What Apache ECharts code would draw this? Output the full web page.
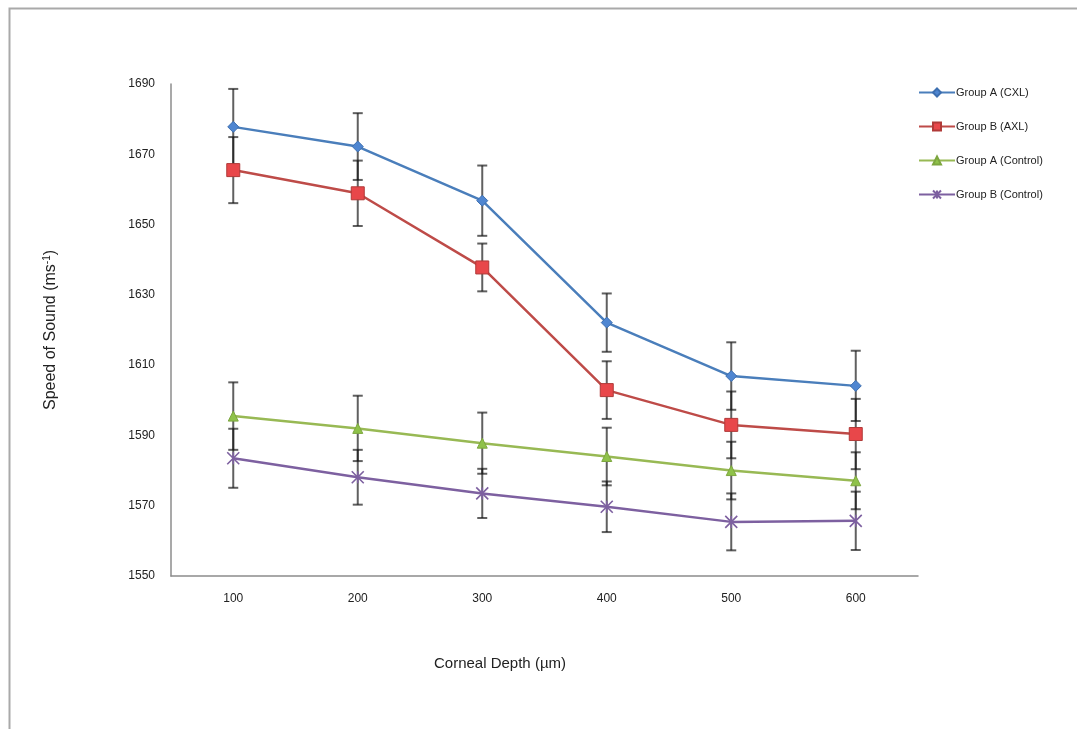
<!DOCTYPE html>
<html>
<head>
<meta charset="utf-8">
<script src="https://cdn.jsdelivr.net/npm/echarts@6/dist/echarts.min.js"></script>
<style>html,body{margin:0;padding:0;background:#fff;}#c{width:1077px;height:729px;}</style>
</head>
<body>
<div id="c"></div>
<script>
const depths = ['100', '200', '300', '400', '500', '600'];
const seriesNames = ['Group A (CXL)', 'Group B (AXL)', 'Group A (Control)', 'Group B (Control)'];
const cxl = [1677.8, 1672.2, 1656.8, 1622.1, 1606.9, 1604.1];
const cxlErr = [10.8, 9.5, 10, 8.3, 9.6, 10];
const axl = [1665.5, 1658.9, 1637.8, 1602.9, 1593.0, 1590.4];
const axlErr = [9.4, 9.3, 6.8, 8.2, 9.5, 10];
const ctrlA = [1595.5, 1592.0, 1587.8, 1584.0, 1580.0, 1577.1];
const ctrlAErr = [9.6, 9.3, 8.7, 8.2, 8.2, 8.1];
const ctrlB = [1583.5, 1578.1, 1573.5, 1569.7, 1565.4, 1565.7];
const ctrlBErr = [8.4, 7.8, 7.0, 7.2, 8.1, 8.3];
const yTicks = [1550, 1570, 1590, 1610, 1630, 1650, 1670, 1690];

const FONT = 'Liberation Sans, Arial, sans-serif';
const chart = echarts.init(document.getElementById('c'), null, {renderer: 'canvas'});

function errSeries(vals, errs) {
  return {
    type: 'custom',
    z: 1,
    silent: true,
    data: vals.map((v, i) => [i, v, errs[i]]),
    renderItem: function (params, api) {
      const i = api.value(0), v = api.value(1), e = api.value(2);
      const top = api.coord([i, v + e]);
      const bot = api.coord([i, v - e]);
      const w = 5;
      const st = {stroke: 'rgba(20,20,20,0.68)', lineWidth: 2};
      return {
        type: 'group',
        children: [
          {type: 'line', shape: {x1: top[0], y1: top[1], x2: bot[0], y2: bot[1]}, style: st},
          {type: 'line', shape: {x1: top[0] - w, y1: top[1], x2: top[0] + w, y2: top[1]}, style: st},
          {type: 'line', shape: {x1: bot[0] - w, y1: bot[1], x2: bot[0] + w, y2: bot[1]}, style: st}
        ]
      };
    }
  };
}

function lineSeries(name, vals, color, symbol, size, itemStyle) {
  return {
    name: name,
    type: 'line',
    z: 3,
    data: vals,
    symbol: symbol,
    symbolSize: size,
    lineStyle: {color: color, width: 2.5},
    itemStyle: itemStyle,
    emphasis: {disabled: true}
  };
}

const option = {
  backgroundColor: '#ffffff',
  animation: false,
  graphic: [{
    type: 'rect',
    shape: {x: 9.5, y: 8.5, width: 1100, height: 800},
    style: {fill: 'none', stroke: '#a9a9a9', lineWidth: 2},
    silent: true
  }],
  grid: {left: 171, top: 84, right: 159, bottom: 153},
  legend: {
    orient: 'vertical',
    left: 913,
    top: 82,
    itemWidth: 36,
    itemHeight: 10,
    itemGap: 23,
    data: seriesNames,
    textStyle: {fontFamily: FONT, fontSize: 11, color: '#222', padding: [0, 0, 0, -4]}
  },
  xAxis: {
    type: 'category',
    data: depths,
    boundaryGap: true,
    axisLine: {lineStyle: {color: '#8c8c8c', width: 1.5}},
    axisTick: {show: false},
    axisLabel: {fontFamily: FONT, fontSize: 12, color: '#222', margin: 17},
    name: 'Corneal Depth (µm)',
    nameLocation: 'middle',
    nameGap: 80,
    nameTextStyle: {fontFamily: FONT, fontSize: 15, color: '#222', padding: [0, 89, 0, 0]}
  },
  yAxis: {
    type: 'value',
    min: yTicks[0],
    max: yTicks[yTicks.length - 1],
    interval: 20,
    splitLine: {show: false},
    axisLine: {show: true, lineStyle: {color: '#8c8c8c', width: 1.5}},
    axisTick: {show: false},
    axisLabel: {fontFamily: FONT, fontSize: 12, color: '#222', margin: 16, formatter: function (v) { return String(v); }},
    name: 'Speed of Sound (ms{sup|-1})',
    nameLocation: 'middle',
    nameRotate: 90,
    nameGap: 111,
    nameTextStyle: {
      fontFamily: FONT, fontSize: 16, color: '#222',
      rich: {sup: {fontFamily: FONT, fontSize: 10, color: '#222', verticalAlign: 'top', padding: [0, 0, 8, 0]}}
    }
  },
  series: [
    errSeries(cxl, cxlErr),
    errSeries(axl, axlErr),
    errSeries(ctrlA, ctrlAErr),
    errSeries(ctrlB, ctrlBErr),
    lineSeries(seriesNames[0], cxl, '#4a7ebb', 'diamond', 11, {color: '#4f86d1', borderColor: '#3d6fb0', borderWidth: 1}),
    lineSeries(seriesNames[1], axl, '#be4b48', 'rect', 13, {color: '#e8474a', borderColor: '#b03a38', borderWidth: 1}),
    lineSeries(seriesNames[2], ctrlA, '#98b954', 'triangle', 10, {color: '#8fc24a', borderColor: '#7da63f', borderWidth: 1}),
    lineSeries(seriesNames[3], ctrlB, '#7d60a0', 'path://M0,0L10,10M10,0L0,10M5,0L5,10', 12, {color: 'rgba(0,0,0,0)', borderColor: '#7d60a0', borderWidth: 1.6})
  ]
};
chart.setOption(option);
</script>
</body>
</html>
